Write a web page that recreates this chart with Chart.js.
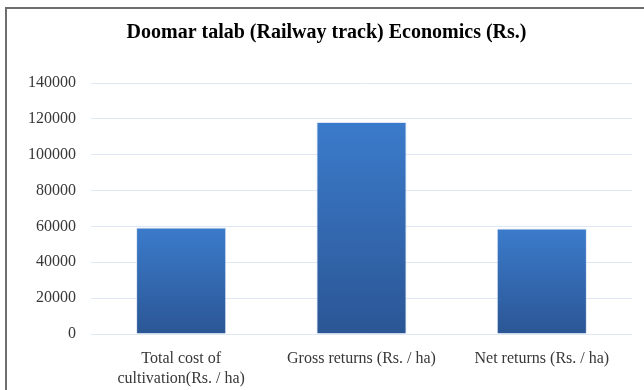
<!DOCTYPE html>
<html>
<head>
    <title>Doomar talab Economics</title>
    <style>
        body {
            margin: 0;
            background: #ffffff;
        }
        #wrap {
            position: absolute;
            left: 5px;
            top: 7px;
            width: 637px;
            height: 381px;
            border-top: 2px solid #6e6e6e;
            border-left: 2px solid #6e6e6e;
        }
    </style>
</head>
<body>
    <div id="wrap">
        <canvas id="economics-chart" width="637" height="381"></canvas>
    </div>

    <script src="https://cdn.jsdelivr.net/npm/chart.js"></script>
    <script>
        // Values (Rs. / ha)
        const categories = [
            ['Total cost of', 'cultivation(Rs. / ha)'],
            'Gross returns (Rs. / ha)',
            'Net returns (Rs. / ha)'
        ];
        const economics = [59400, 118200, 58800];
        const yTicks = [0, 20000, 40000, 60000, 80000, 100000, 120000, 140000];

        const serif = "'Liberation Serif', 'Times New Roman', serif";

        // Each bar gets its own light-to-dark gradient, top to bottom
        function barGradient(context) {
            const chart = context.chart;
            const yScale = chart.scales.y;
            if (!chart.chartArea || !yScale || context.raw === undefined) {
                return '#3570bb';
            }
            const top = yScale.getPixelForValue(context.raw);
            const bottom = yScale.getPixelForValue(0);
            const grad = chart.ctx.createLinearGradient(0, top, 0, bottom);
            grad.addColorStop(0, '#3b7bcb');
            grad.addColorStop(1, '#2b5695');
            return grad;
        }

        const ctx = document.getElementById('economics-chart').getContext('2d');

        new Chart(ctx, {
            type: 'bar',
            data: {
                labels: categories,
                datasets: [
                    {
                        label: 'Economics',
                        data: economics,
                        backgroundColor: barGradient,
                        borderColor: 'rgba(200, 215, 235, 0.6)',
                        borderWidth: 1,
                        categoryPercentage: 1.0,
                        barPercentage: 0.5,
                    },
                ],
            },
            options: {
                responsive: false,
                animation: false,
                layout: {
                    padding: { left: 14, right: 12, top: 0, bottom: 0 },
                },
                plugins: {
                    legend: { display: false },
                    tooltip: { enabled: false },
                    title: {
                        display: true,
                        text: 'Doomar talab (Railway track) Economics (Rs.)',
                        color: '#000000',
                        font: { family: serif, size: 20, weight: 'bold', lineHeight: 1.2 },
                        padding: { top: 12, bottom: 38 },
                    },
                },
                scales: {
                    x: {
                        grid: { display: false, drawTicks: false },
                        border: { display: false },
                        ticks: {
                            color: '#383838',
                            font: { family: serif, size: 16, lineHeight: 1.25 },
                            padding: 15,
                            maxRotation: 0,
                            autoSkip: false,
                        },
                        afterFit: (scale) => { scale.height = 56; },
                    },
                    y: {
                        min: 0,
                        max: 140000,
                        afterBuildTicks: (scale) => {
                            scale.ticks = yTicks.map(v => ({ value: v }));
                        },
                        grid: { color: '#dfe7f2', lineWidth: 1, drawTicks: false },
                        border: { display: false },
                        ticks: {
                            color: '#383838',
                            font: { family: serif, size: 16 },
                            padding: 15,
                            callback: (value) => String(value),
                        },
                        afterFit: (scale) => { scale.width = 70; },
                    },
                },
            },
        });
    </script>
</body>
</html>
